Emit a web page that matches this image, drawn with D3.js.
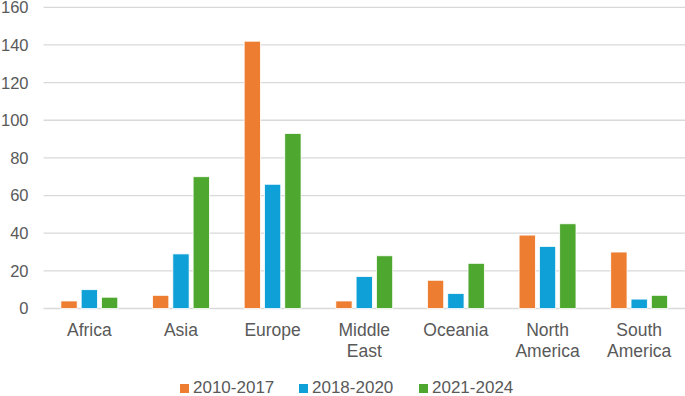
<!DOCTYPE html>
<html>
<head>
<meta charset="utf-8">
<script src="https://cdn.jsdelivr.net/npm/d3@7"></script>
<style>
    body { margin: 0; background: #fff; }
    text { font-family: "Liberation Sans", Arial, sans-serif; fill: #595959; }
</style>
</head>
<body>
<div id="chart"></div>
<script>
// data
const regions = [["Africa"], ["Asia"], ["Europe"], ["Middle", "East"], ["Oceania"], ["North", "America"], ["South", "America"]];
const seriesNames = ["2010-2017", "2018-2020", "2021-2024"];
const period2010 = [4, 7, 142, 4, 15, 39, 30];
const period2018 = [10, 29, 66, 17, 8, 33, 5];
const period2021 = [6, 70, 93, 28, 24, 45, 7];
const yTicks = [0, 20, 40, 60, 80, 100, 120, 140, 160];

const colors = ["#ED7D31", "#0FA0D8", "#4EA72E"];
const series = [period2010, period2018, period2021];

const width = 685, height = 396;
const margin = {top: 7.3, right: 0, bottom: 87.5, left: 43.5};
const innerW = width - margin.left - margin.right;
const innerH = height - margin.top - margin.bottom;

const svg = d3.select("#chart").append("svg")
    .attr("width", width)
    .attr("height", height);

const g = svg.append("g")
    .attr("transform", "translate(" + margin.left + "," + margin.top + ")");

const x = d3.scaleBand()
    .domain(d3.range(regions.length))
    .range([0, innerW]);

const y = d3.scaleLinear()
    .domain([0, 160])
    .range([innerH, 0]);

// gridlines
g.selectAll("line.grid")
    .data(yTicks)
    .enter().append("line")
    .attr("class", "grid")
    .attr("x1", 0)
    .attr("x2", innerW)
    .attr("y1", d => y(d))
    .attr("y2", d => y(d))
    .attr("stroke", "#d9d9d9")
    .attr("stroke-width", 1.3);

// y axis labels
g.selectAll("text.ytick")
    .data(yTicks)
    .enter().append("text")
    .attr("class", "ytick")
    .attr("x", -15)
    .attr("y", d => y(d))
    .attr("dy", "0.36em")
    .attr("text-anchor", "end")
    .style("font-size", "16.5px")
    .text(d => d);

// bars
const barW = 16.3, gap = 4;
const groupW = 3 * barW + 2 * gap;

series.forEach((vals, s) => {
    g.selectAll("rect.s" + s)
        .data(vals)
        .enter().append("rect")
        .attr("class", "s" + s)
        .attr("x", (d, i) => x(i) + x.bandwidth() / 2 - groupW / 2 + s * (barW + gap))
        .attr("y", d => y(d))
        .attr("width", barW)
        .attr("height", d => innerH - y(d))
        .attr("fill", colors[s])
        .attr("stroke", "#fff")
        .attr("stroke-width", 0.8);
});

// category labels
const cat = g.selectAll("text.cat")
    .data(regions)
    .enter().append("text")
    .attr("class", "cat")
    .attr("text-anchor", "middle")
    .attr("x", (d, i) => x(i) + x.bandwidth() / 2)
    .attr("y", innerH + 27.5)
    .style("font-size", "17.5px");

cat.selectAll("tspan")
    .data(d => d)
    .enter().append("tspan")
    .attr("x", function() { return d3.select(this.parentNode).attr("x"); })
    .attr("dy", (d, i) => i === 0 ? 0 : 21)
    .text(d => d);

// legend
const legendX = [180, 299, 419];
const legend = svg.append("g");
seriesNames.forEach((name, s) => {
    legend.append("rect")
        .attr("x", legendX[s])
        .attr("y", 384)
        .attr("width", 9)
        .attr("height", 9)
        .attr("fill", colors[s]);
    legend.append("text")
        .attr("x", legendX[s] + 13)
        .attr("y", 393)
        .style("font-size", "17px")
        .text(name);
});
</script>
</body>
</html>
